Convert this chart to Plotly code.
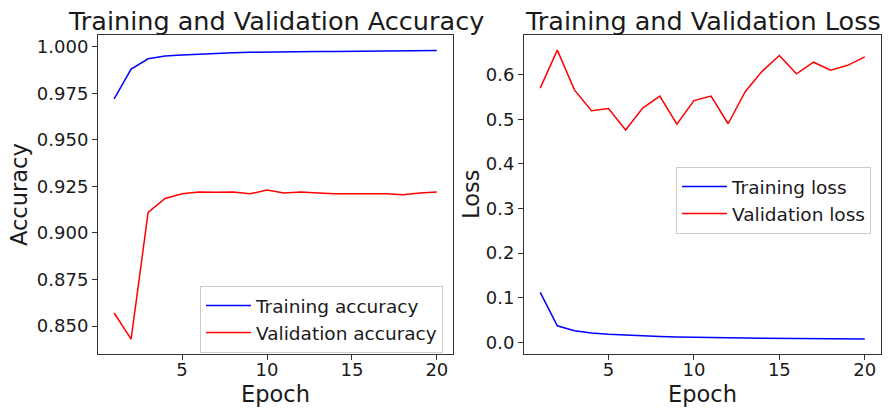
import plotly.graph_objects as go
from plotly.subplots import make_subplots

epochs = list(range(1, 21))

train_acc = [0.972, 0.988, 0.9935, 0.995, 0.9955, 0.996, 0.9965, 0.9968, 0.997, 0.997,
             0.9972, 0.9973, 0.9974, 0.9975, 0.9976, 0.9977, 0.9978, 0.9979, 0.998, 0.998]
val_acc = [0.857, 0.843, 0.911, 0.9185, 0.921, 0.922, 0.9218, 0.922, 0.921, 0.923,
           0.9215, 0.922, 0.9215, 0.921, 0.921, 0.921, 0.921, 0.9205, 0.9215, 0.922]

train_loss = [0.112, 0.037, 0.026, 0.021, 0.018, 0.016, 0.0145, 0.013, 0.012, 0.011,
              0.0105, 0.010, 0.0095, 0.009, 0.0088, 0.0085, 0.0082, 0.008, 0.0078, 0.0075]
val_loss = [0.570, 0.655, 0.566, 0.519, 0.524, 0.476, 0.525, 0.552, 0.489, 0.542,
            0.552, 0.490, 0.562, 0.608, 0.643, 0.602, 0.628, 0.610, 0.621, 0.640]

acc_ticks = [0.850, 0.875, 0.900, 0.925, 0.950, 0.975, 1.000]
loss_ticks = [0.0, 0.1, 0.2, 0.3, 0.4, 0.5, 0.6]
epoch_ticks = [5, 10, 15, 20]

# page has an 8px body margin, so the figure is drawn 8px in from the window corner
OFF = 8
W, H = 891 - OFF, 414 - OFF
FONT = "DejaVu Sans"
TEXT = "#1a1a1a"


def px(x):
    return (x - OFF) / W


def py(y):
    return 1 - (y - OFF) / H


fig = make_subplots(rows=1, cols=2)

fig.add_trace(go.Scatter(x=epochs, y=train_acc, mode="lines", name="Training accuracy",
                         line=dict(color="#0000ff", width=1.5), legend="legend"), row=1, col=1)
fig.add_trace(go.Scatter(x=epochs, y=val_acc, mode="lines", name="Validation accuracy",
                         line=dict(color="#ff0000", width=1.5), legend="legend"), row=1, col=1)
fig.add_trace(go.Scatter(x=epochs, y=train_loss, mode="lines", name="Training loss",
                         line=dict(color="#0000ff", width=1.5), legend="legend2"), row=1, col=2)
fig.add_trace(go.Scatter(x=epochs, y=val_loss, mode="lines", name="Validation loss",
                         line=dict(color="#ff0000", width=1.5), legend="legend2"), row=1, col=2)

axis_style = dict(showline=True, linecolor="#333333", linewidth=1, mirror=True,
                  ticks="outside", ticklen=5, tickcolor="#333333", showgrid=False,
                  zeroline=False, tickfont=dict(family=FONT, size=18, color=TEXT))

fig.update_xaxes(axis_style, ticklabelstandoff=-6)
fig.update_yaxes(axis_style)

legend_style = dict(xanchor="right", yanchor="top", bordercolor="#cccccc", borderwidth=1,
                    bgcolor="rgba(255,255,255,0.8)", itemwidth=45,
                    font=dict(family=FONT, size=18.5, color=TEXT))

fig.update_layout(
    xaxis=dict(domain=[px(98), px(453)], range=[0.05, 20.95], tickvals=epoch_ticks),
    xaxis2=dict(domain=[px(524), px(881)], range=[0.05, 20.95], tickvals=epoch_ticks),
    yaxis=dict(domain=[py(354), py(35)], range=[0.8350, 1.0063],
               tickvals=acc_ticks, ticktext=[f"{v:.3f}" for v in acc_ticks]),
    yaxis2=dict(domain=[py(354), py(35)], range=[-0.0262, 0.689],
                tickvals=loss_ticks, ticktext=[f"{v:.1f}" for v in loss_ticks]),
    width=W, height=H,
    margin=dict(l=0, r=0, t=0, b=0),
    paper_bgcolor="white", plot_bgcolor="white",
    font=dict(family=FONT, color=TEXT),
    legend=dict(x=px(443), y=py(286), **legend_style),
    legend2=dict(x=px(871), y=py(167), **legend_style),
)

# titles and axis labels
labels = [
    dict(text="Training and Validation Accuracy", x=275.5, y=21, size=25.5, angle=0),
    dict(text="Training and Validation Loss", x=702.5, y=21, size=25.5, angle=0),
    dict(text="Epoch", x=275.5, y=394, size=22.5, angle=0),
    dict(text="Epoch", x=702.5, y=394, size=22.5, angle=0),
    dict(text="Accuracy", x=19, y=195, size=22.5, angle=-90),
    dict(text="Loss", x=471, y=195, size=22.5, angle=-90),
]
for lab in labels:
    fig.add_annotation(text=lab["text"], x=px(lab["x"]), y=py(lab["y"]), xref="paper", yref="paper",
                       xanchor="center", yanchor="middle", showarrow=False, textangle=lab["angle"],
                       font=dict(family=FONT, size=lab["size"], color=TEXT))

fig.write_html("out.html")
